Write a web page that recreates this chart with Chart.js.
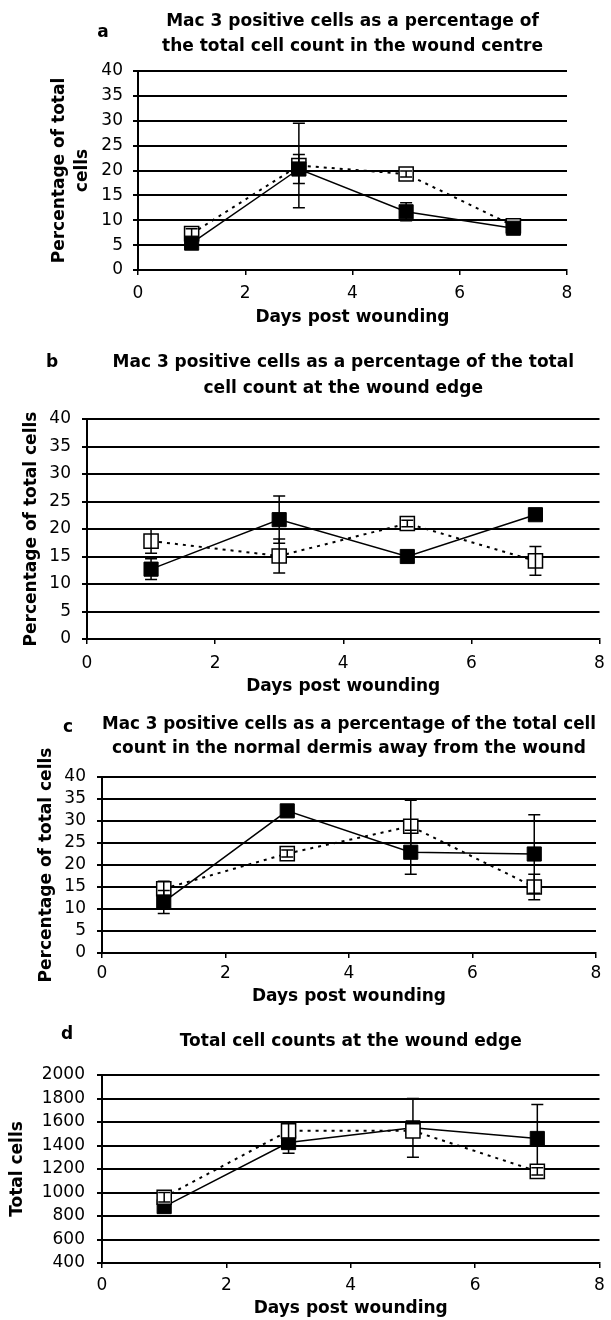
<!DOCTYPE html>
<html>
<head>
<meta charset="utf-8">
<script src="https://cdn.jsdelivr.net/npm/chart.js@4.4.1/dist/chart.umd.min.js"></script>
<style>
  html, body { margin: 0; padding: 0; background: #fff; }
  body { width: 611px; height: 1320px; position: relative; overflow: hidden; }
  .panel { position: absolute; left: 0; width: 611px; }
</style>
</head>
<body>
<div class="panel" style="top:0;height:330px"><canvas id="chart-a"></canvas></div>
<div class="panel" style="top:330px;height:370px"><canvas id="chart-b"></canvas></div>
<div class="panel" style="top:700px;height:310px"><canvas id="chart-c"></canvas></div>
<div class="panel" style="top:1010px;height:310px"><canvas id="chart-d"></canvas></div>
<script>
// days post wounding, shared by all four panels
const days = [1, 3, 5, 7];
const xTicks = [0, 2, 4, 6, 8];
const pctTicks = [0, 5, 10, 15, 20, 25, 30, 35, 40];
const countTicks = [400, 600, 800, 1000, 1200, 1400, 1600, 1800, 2000];

// a — wound centre (% Mac 3 positive)
const centreFilled = [5.4, 20.3, 11.7, 8.4];
const centreFilledErr = [0.6, 2.9, 1.8, 0.5];
const centreOpen = [7.3, 21.0, 19.3, 8.9];
const centreOpenErr = [1.0, 8.5, 0.6, 0.5];

// b — wound edge (% Mac 3 positive)
const edgeFilled = [12.7, 21.7, 15.0, 22.6];
const edgeFilledErr = [1.9, 4.3, 0.4, 0.5];
const edgeOpen = [17.8, 15.1, 21.0, 14.2];
const edgeOpenErr = [2.2, 3.1, 0.6, 2.6];

// c — normal dermis away from the wound (% Mac 3 positive)
const dermisFilled = [11.6, 32.3, 22.9, 22.5];
const dermisFilledErr = [2.6, 0.8, 5.0, 8.9];
const dermisOpen = [14.6, 22.6, 28.8, 15.0];
const dermisOpenErr = [1.7, 0.8, 5.9, 2.9];

// d — total cell counts at the wound edge
const totalFilled = [880, 1425, 1550, 1460];
const totalFilledErr = [20, 90, 250, 290];
const totalOpen = [960, 1525, 1525, 1180];
const totalOpenErr = [40, 65, 0, 30];

Chart.defaults.font.family = "'DejaVu Sans', sans-serif";
Chart.defaults.color = "#000";

// vertical error bars, drawn right after their own dataset
const errorBars = {
  id: "errorBars",
  afterDatasetDraw(chart, args) {
    const ds = chart.data.datasets[args.index];
    if (!ds.errors) return;
    const { ctx } = chart;
    const xs = chart.scales.x;
    const ys = chart.scales.y;
    ctx.save();
    ctx.strokeStyle = "#000";
    ctx.lineWidth = 1.5;
    ds.data.forEach((p, i) => {
      const e = ds.errors[i];
      if (!e) return;
      const x = xs.getPixelForValue(p.x);
      const yTop = ys.getPixelForValue(p.y + e);
      const yBot = ys.getPixelForValue(p.y - e);
      ctx.beginPath();
      ctx.moveTo(x, yTop); ctx.lineTo(x, yBot);
      ctx.moveTo(x - 6, yTop); ctx.lineTo(x + 6, yTop);
      ctx.moveTo(x - 6, yBot); ctx.lineTo(x + 6, yBot);
      ctx.stroke();
    });
    ctx.restore();
  },
};

// the small bold panel letter (a, b, c, d)
const panelLetter = {
  id: "panelLetter",
  afterDraw(chart, args, opts) {
    if (!opts.text) return;
    const ctx = chart.ctx;
    ctx.save();
    ctx.font = "bold 17px 'DejaVu Sans'";
    ctx.fillStyle = "#000";
    ctx.textAlign = "center";
    ctx.textBaseline = "middle";
    ctx.fillText(opts.text, opts.x, opts.y);
    ctx.restore();
  },
};

function series(values, errors, filled, order) {
  return {
    data: values.map((v, i) => ({ x: days[i], y: v })),
    errors,
    showLine: true,
    borderColor: "#000",
    borderWidth: filled ? 1.5 : 2,
    borderDash: filled ? [] : [3, 5],
    pointStyle: "rect",
    pointRadius: 10,
    pointHoverRadius: 10,
    pointBackgroundColor: filled ? "#000" : "#fff",
    pointBorderColor: "#000",
    pointBorderWidth: filled ? 1 : 1.5,
    order,
  };
}

function makeChart(id, p) {
  const canvas = document.getElementById(id);
  return new Chart(canvas, {
    type: "scatter",
    data: {
      datasets: [
        series(p.filled, p.filledErr, true, p.filledOnTop ? 0 : 1),
        series(p.open, p.openErr, false, p.filledOnTop ? 1 : 0),
      ],
    },
    options: {
      responsive: true,
      maintainAspectRatio: false,
      animation: false,
      events: [],
      layout: { padding: p.pad },
      plugins: {
        legend: { display: false },
        tooltip: { enabled: false },
        title: {
          display: true,
          text: p.title,
          fullSize: false,
          color: "#000",
          font: { size: 17, weight: "bold", lineHeight: p.titleLH / 17 },
          padding: { top: p.titleTop, bottom: p.titleBottom },
        },
        panelLetter: p.letter,
      },
      scales: {
        x: {
          type: "linear",
          min: 0,
          max: 8,
          afterBuildTicks: (s) => { s.ticks = xTicks.map((v) => ({ value: v })); },
          ticks: { color: "#000", font: { size: 17 }, padding: p.xTickPad, autoSkip: false, maxRotation: 0, callback: (v) => String(v) },
          grid: { drawOnChartArea: false, drawTicks: true, tickLength: 5, color: "#000", lineWidth: 1.5 },
          border: { display: true, color: "#000", width: 1.5 },
          title: {
            display: true,
            text: "Days post wounding",
            color: "#000",
            font: { size: 17, weight: "bold", lineHeight: 1.2 },
            padding: 0,
          },
          afterFit: (s) => { s.height = p.xH; s.paddingLeft = 0; s.paddingRight = 0; },
        },
        y: {
          min: p.yTicks[0],
          max: p.yTicks[p.yTicks.length - 1],
          afterBuildTicks: (s) => { s.ticks = p.yTicks.map((v) => ({ value: v })); },
          ticks: { color: "#000", font: { size: 17 }, padding: p.yTickPad, autoSkip: false, callback: (v) => String(v) },
          grid: { color: "#000", lineWidth: 2, tickLength: 5 },
          border: { display: true, color: "#000", width: 2 },
          title: {
            display: true,
            text: p.yTitle,
            color: "#000",
            font: { size: 17, weight: "bold", lineHeight: 1.35 },
            padding: 0,
          },
          afterFit: (s) => { s.width = p.yW; },
        },
      },
    },
    plugins: [errorBars, panelLetter],
  });
}

makeChart("chart-a", {
  filled: centreFilled, filledErr: centreFilledErr,
  open: centreOpen, openErr: centreOpenErr, filledOnTop: true,
  title: ["Mac 3 positive cells as a percentage of", "the total cell count in the wound centre"],
  titleLH: 25, titleTop: 9.5, titleBottom: 11.5,
  yTitle: ["Percentage of total", "cells"], yTicks: pctTicks,
  pad: { top: 0, left: 48.5, right: 44, bottom: 2 },
  yW: 89.5, xH: 58, xTickPad: 8, yTickPad: 10,
  letter: { text: "a", x: 103, y: 33 },
});

makeChart("chart-b", {
  filled: edgeFilled, filledErr: edgeFilledErr,
  open: edgeOpen, openErr: edgeOpenErr, filledOnTop: true,
  title: ["Mac 3 positive cells as a percentage of the total", "cell count at the wound edge"],
  titleLH: 26, titleTop: 20, titleBottom: 17,
  yTitle: "Percentage of total cells", yTicks: pctTicks,
  pad: { top: 0, left: 20.5, right: 4, bottom: 3 },
  yW: 66.5, xH: 58, xTickPad: 9, yTickPad: 11,
  letter: { text: "b", x: 52, y: 33 },
});

makeChart("chart-c", {
  filled: dermisFilled, filledErr: dermisFilledErr,
  open: dermisOpen, openErr: dermisOpenErr, filledOnTop: true,
  title: ["Mac 3 positive cells as a percentage of the total cell", "count in the normal dermis away from the wound"],
  titleLH: 24, titleTop: 13, titleBottom: 16,
  yTitle: "Percentage of total cells", yTicks: pctTicks,
  pad: { top: 0, left: 35.5, right: 15, bottom: 3 },
  yW: 66.5, xH: 54, xTickPad: 5, yTickPad: 11,
  letter: { text: "c", x: 68, y: 28 },
});

makeChart("chart-d", {
  filled: totalFilled, filledErr: totalFilledErr,
  open: totalOpen, openErr: totalOpenErr, filledOnTop: false,
  title: "Total cell counts at the wound edge",
  titleLH: 24, titleTop: 20, titleBottom: 21,
  yTitle: "Total cells", yTicks: countTicks,
  pad: { top: 0, left: 6.5, right: 11, bottom: 1 },
  yW: 95.5, xH: 56, xTickPad: 7, yTickPad: 12,
  letter: { text: "d", x: 67, y: 25 },
});
</script>
</body>
</html>
